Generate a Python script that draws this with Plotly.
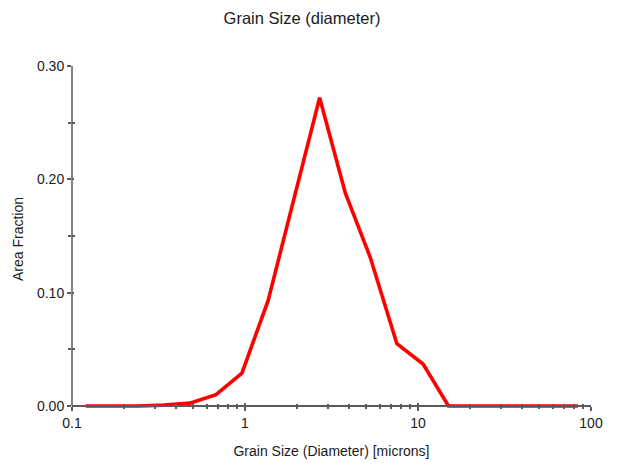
import plotly.graph_objects as go

# Data
diameter = [0.12, 0.17, 0.24, 0.34, 0.48, 0.68, 0.96, 1.36, 1.92, 2.7, 3.8, 5.3, 7.55, 10.7, 15.0, 21.3, 30.0, 42.5, 60.0, 84.0]
area_fraction = [0.0, 0.0, 0.0, 0.0008, 0.0025, 0.010, 0.029, 0.093, 0.182, 0.272, 0.188, 0.131, 0.055, 0.037, 0.0, 0.0, 0.0, 0.0, 0.0, 0.0]

x_major = [0.1, 1, 10, 100]
x_major_labels = ["0.1", "1", "10", "100"]
x_minor = [m * d for d in (0.1, 1, 10) for m in range(2, 10)]
y_major = [0.0, 0.1, 0.2, 0.3]
y_major_labels = ["0.00", "0.10", "0.20", "0.30"]
y_minor = [0.05, 0.15, 0.25]

W, H = 619, 466
ML, MR, MT, MB = 72, 28, 66, 54
plot_h = H - MT - MB
px_per_unit = 340 / 0.30
y_bottom = -(plot_h - 340) / px_per_unit
x_pos = (plot_h - 340) / plot_h

FONT = "Liberation Sans, Arial, sans-serif"
AX = "#5a5a5a"
TXT = "#1a1a1a"

fig = go.Figure()
fig.add_trace(go.Scatter(
    x=diameter, y=area_fraction, mode="lines",
    line=dict(color="#ff0000", width=3.6),
    hoverinfo="x+y", showlegend=False,
))
# helper (empty) trace to register overlay axes used for crossing ticks
fig.add_trace(go.Scatter(x=[None], y=[None], xaxis="x2", yaxis="y2",
                         mode="lines", showlegend=False, hoverinfo="skip"))

common_x = dict(type="log", range=[-1, 2], anchor="free", position=x_pos,
                showgrid=False, zeroline=False, automargin=False)
common_y = dict(range=[y_bottom, 0.30], showgrid=False, zeroline=False, automargin=False)

fig.update_layout(
    width=W, height=H,
    margin=dict(l=ML, r=MR, t=MT, b=MB, autoexpand=False),
    paper_bgcolor="white", plot_bgcolor="white",
    font=dict(family=FONT, size=14, color=TXT),
    title=dict(text="Grain Size (diameter)", x=302 / W, xref="container", xanchor="center",
               y=1 - 18 / H, yref="container", yanchor="middle",
               font=dict(family=FONT, size=16.5, color=TXT)),
    xaxis=dict(
        **common_x,
        showline=True, linecolor=AX, linewidth=1.5,
        tickmode="array", tickvals=x_major, ticktext=x_major_labels,
        ticks="outside", ticklen=4, tickwidth=1.5, tickcolor=AX,
        minor=dict(tickmode="array", tickvals=x_minor, ticks="outside", ticklen=2,
                   tickwidth=1.5, tickcolor=AX),
        tickfont=dict(family=FONT, size=14, color=TXT),
        title=dict(text="Grain Size (Diameter) [microns]", standoff=16,
                   font=dict(family=FONT, size=14, color=TXT)),
    ),
    xaxis2=dict(
        **common_x, overlaying="x", showline=False,
        tickmode="array", tickvals=x_major, ticktext=["", "", "", ""],
        ticks="inside", ticklen=3, tickwidth=1.5, tickcolor=AX,
        minor=dict(tickmode="array", tickvals=x_minor, ticks="inside", ticklen=2,
                   tickwidth=1.5, tickcolor=AX),
        showticklabels=False,
    ),
    yaxis=dict(
        **common_y, anchor="x",
        showline=False,
        tickmode="array", tickvals=y_major, ticktext=y_major_labels,
        ticks="outside", ticklen=4, tickwidth=1.5, tickcolor=AX,
        minor=dict(tickmode="array", tickvals=y_minor, ticks="outside", ticklen=3,
                   tickwidth=1.5, tickcolor=AX),
        tickfont=dict(family=FONT, size=14, color=TXT),
        title=dict(text="Area Fraction", standoff=10,
                   font=dict(family=FONT, size=14, color=TXT)),
    ),
    yaxis2=dict(
        **common_y, overlaying="y", anchor="x2", side="left",
        showline=False,
        tickmode="array", tickvals=y_major, ticktext=["", "", "", ""],
        ticks="inside", ticklen=2, tickwidth=1.5, tickcolor=AX,
        minor=dict(tickmode="array", tickvals=y_minor, ticks="inside", ticklen=3,
                   tickwidth=1.5, tickcolor=AX),
        showticklabels=False,
    ),
    shapes=[dict(type="line", xref="x domain", yref="y", x0=0, x1=0, y0=0, y1=0.30,
                 line=dict(color=AX, width=1.5), layer="above")],
)

fig.write_html("out.html")
